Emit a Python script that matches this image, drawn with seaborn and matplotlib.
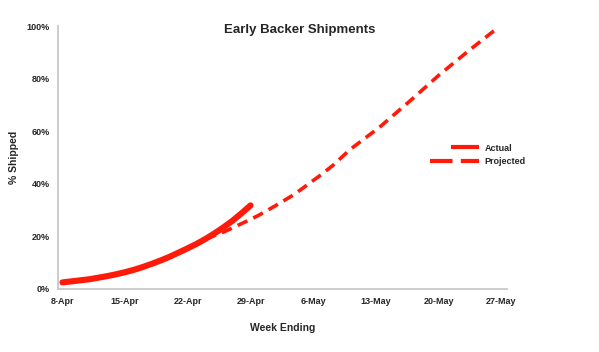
import pandas as pd
import seaborn as sns
import matplotlib.pyplot as plt

# days since 8-Apr
actual_days = list(range(0, 22))
actual_pct = [0.025, 0.029, 0.033, 0.037, 0.043, 0.049, 0.056, 0.064, 0.073, 0.084,
              0.096, 0.109, 0.123, 0.139, 0.155, 0.172, 0.191, 0.212, 0.235, 0.26,
              0.288, 0.318]

projected_days = [16, 18.1, 19.2, 20.4, 21.9, 23.7, 25.9, 27.1, 28.7, 30.2, 32.1, 35.4,
                  38.8, 42.1, 45.5, 48.3]
projected_pct = [0.19, 0.218, 0.236, 0.255, 0.28, 0.315, 0.36, 0.39, 0.43, 0.47, 0.53,
                 0.615, 0.715, 0.815, 0.91, 0.985]

tick_days = [0, 7, 14, 21, 28, 35, 42, 49]
tick_labels = ["8-Apr", "15-Apr", "22-Apr", "29-Apr", "6-May", "13-May", "20-May", "27-May"]
y_ticks = [0, 0.2, 0.4, 0.6, 0.8, 1.0]

df_actual = pd.DataFrame({"day": actual_days, "pct": actual_pct})
df_proj = pd.DataFrame({"day": projected_days, "pct": projected_pct})

sns.set_theme(style="white")
plt.rcParams["font.family"] = ["Liberation Sans", "DejaVu Sans"]

red = "#ff1a0a"
fig = plt.figure(figsize=(5.99, 3.52), dpi=100)
ax = fig.add_axes([0.0968, 0.179, 0.749, 0.747])

sns.lineplot(data=df_proj, x="day", y="pct", ax=ax, color=red, linewidth=2.6,
             label="Projected")
ax.lines[-1].set_dashes((3, 1.8))
sns.lineplot(data=df_actual, x="day", y="pct", ax=ax, color=red, linewidth=4.4,
             label="Actual", solid_capstyle="round")

ax.set_xlim(-0.5, 49.6)
ax.set_ylim(0, 1.0)
ax.set_xticks(tick_days)
ax.set_xticklabels(tick_labels)
ax.set_yticks(y_ticks)
ax.set_yticklabels([f"{int(v * 100)}%" for v in y_ticks])
ax.tick_params(length=0, labelsize=6.5, pad=6)
for lab in ax.get_xticklabels() + ax.get_yticklabels():
    lab.set_fontweight("bold")

for side in ["top", "right"]:
    ax.spines[side].set_visible(False)
for side in ["left", "bottom"]:
    ax.spines[side].set_color("#c8c8c8")
    ax.spines[side].set_linewidth(1.3)

ax.set_xlabel("Week Ending", fontsize=7.5, fontweight="bold", labelpad=12)
ax.set_ylabel("% Shipped", fontsize=7.5, fontweight="bold")
ax.yaxis.set_label_coords(-0.088, 0.5)
fig.text(0.5, 0.915, "Early Backer Shipments", ha="center", va="center",
         fontsize=9.5, fontweight="bold")

h, l = ax.get_legend_handles_labels()
leg = ax.legend(h[::-1], l[::-1], loc="center left", bbox_to_anchor=(0.81, 0.51),
                frameon=False, fontsize=6.5, handlelength=5.5, handletextpad=0.6,
                labelspacing=0.5)
for t in leg.get_texts():
    t.set_fontweight("bold")
act_line, proj_line = leg.get_lines()
act_line.set_linewidth(3)
act_line.set_solid_capstyle("butt")
xs, ys = act_line.get_xdata(), act_line.get_ydata()
act_line.set_data([xs[0] + 0.43 * (xs[-1] - xs[0]), xs[-1]], [ys[0], ys[-1]])
proj_line.set_linewidth(3)
proj_line.set_dashes((5.4, 2))

fig.savefig("out.png", dpi=100)
